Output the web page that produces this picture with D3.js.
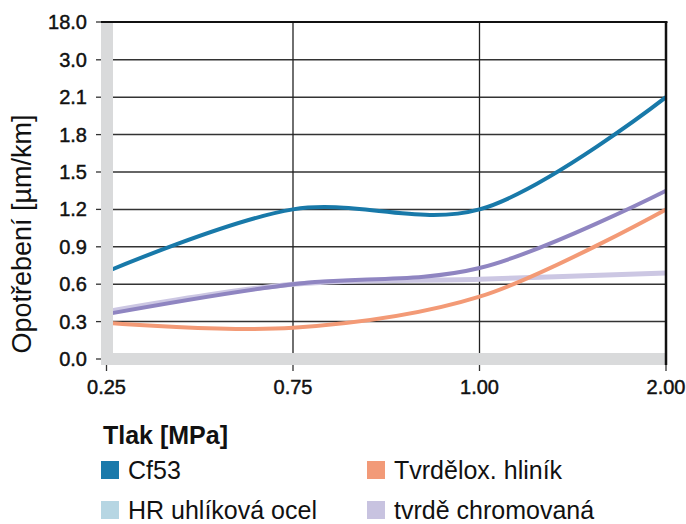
<!DOCTYPE html>
<html><head><meta charset="utf-8">
<script src="https://cdn.jsdelivr.net/npm/d3@7"></script>
<style>
html,body{margin:0;padding:0;background:#fff;}
text{font-family:"Liberation Sans",Arial,sans-serif;}
</style></head>
<body>
<svg id="c" width="686" height="524"></svg>
<script>
const categories = ["0.25","0.75","1.00","2.00"];
const yTicks = [0.0,0.3,0.6,0.9,1.2,1.5,1.8,2.1,3.0,18.0];
const seriesNames = ["Cf53","Tvrdělox. hliník","HR uhlíková ocel","tvrdě chromovaná"];
const cf53 = [0.70,1.20,1.20,2.10];
const tvrdelox = [0.29,0.25,0.50,1.20];
const hrOcel = [0.38,0.60,0.64,0.69];
const chrom = [0.36,0.60,0.73,1.35];
const legendColors = ["#1a7aab","#f29a78","#b6d6e3","#c8c3e0"];
const lineColors = ["#1879a9","#f39a76","#ccc7e3","#8f85c1"];

const svg = d3.select("#c");
const x = d3.scalePoint().domain(categories).range([106.5,666]);
const y = d3.scaleLinear().domain([0,2.1,3.0,18.0]).range([359,97.2,59.8,22]);

const L=101, R=666, T=22;

// horizontal grid
svg.append("g").selectAll("line").data(yTicks.filter(d=>d>0 && d<18)).join("line")
  .attr("x1",113).attr("x2",R).attr("y1",d=>y(d)).attr("y2",d=>y(d))
  .attr("stroke","#333").attr("stroke-width",1.5);
// vertical grid
svg.append("g").selectAll("line").data(categories.slice(1,3)).join("line")
  .attr("x1",d=>x(d)).attr("x2",d=>x(d)).attr("y1",T).attr("y2",353)
  .attr("stroke","#222").attr("stroke-width",1.3);

// lines
const series = [
  {name:seriesNames[2], v:hrOcel, c:lineColors[2], w:5},
  {name:seriesNames[3], v:chrom, c:lineColors[3], w:4},
  {name:seriesNames[1], v:tvrdelox, c:lineColors[1], w:4},
  {name:seriesNames[0], v:cf53, c:lineColors[0], w:4}
];
const line = d3.line().x((d,i)=>x(categories[i])).y(d=>y(d)).curve(d3.curveCatmullRom.alpha(0.5));
svg.append("g").selectAll("path").data(series).join("path")
  .attr("d",d=>line(d.v)).attr("fill","none").attr("stroke",d=>d.c).attr("stroke-width",d=>d.w);

// gray bands (axes)
svg.append("rect").attr("x",L).attr("y",T).attr("width",12).attr("height",365-T).attr("fill","#d9dadb");
svg.append("rect").attr("x",L).attr("y",353).attr("width",R-L).attr("height",12).attr("fill","#d9dadb");
// top & right borders
svg.append("line").attr("x1",L).attr("x2",R+1.5).attr("y1",T).attr("y2",T).attr("stroke","#111").attr("stroke-width",2.2);
svg.append("line").attr("x1",R).attr("x2",R).attr("y1",T).attr("y2",365).attr("stroke","#111").attr("stroke-width",2.5);

// y axis ticks & labels
const ya = svg.append("g");
ya.selectAll("line").data(yTicks).join("line")
  .attr("x1",96).attr("x2",101).attr("y1",d=>y(d)).attr("y2",d=>y(d)).attr("stroke","#333").attr("stroke-width",1.3);
ya.selectAll("text").data(yTicks).join("text")
  .attr("x",87).attr("y",d=>y(d)).attr("dy","0.35em").attr("text-anchor","end")
  .attr("font-size",20).attr("fill","#111").attr("stroke","#111").attr("stroke-width",0.45)
  .text(d=>d3.format(".1f")(d));

// x axis ticks & labels
const xa = svg.append("g");
xa.selectAll("line").data(categories).join("line")
  .attr("x1",d=>x(d)).attr("x2",d=>x(d)).attr("y1",365).attr("y2",371).attr("stroke","#333").attr("stroke-width",1.3);
xa.selectAll("text").data(categories).join("text")
  .attr("x",d=>x(d)).attr("y",394).attr("text-anchor","middle")
  .attr("font-size",20).attr("fill","#111").attr("stroke","#111").attr("stroke-width",0.45)
  .text(d=>d);

// titles
svg.append("text").attr("x",103).attr("y",444).attr("font-size",25).attr("font-weight","bold").attr("fill","#111").text("Tlak [MPa]");
svg.append("text").attr("transform","translate(31,234) rotate(-90)").attr("text-anchor","middle")
  .attr("font-size",27).attr("fill","#111").text("Opotřebení [µm/km]");

// legend
const lg = svg.append("g");
const pos = [[101,461],[367,461],[101,501],[367,501]];
[0,1,2,3].forEach((k,i)=>{
  const [px,py]=pos[i];
  lg.append("rect").attr("x",px).attr("y",py).attr("width",18).attr("height",18).attr("fill",legendColors[k]);
  lg.append("text").attr("x",px+27).attr("y",py+18).attr("font-size",25).attr("fill","#111").text(seriesNames[k]);
});
</script>
</body></html>
